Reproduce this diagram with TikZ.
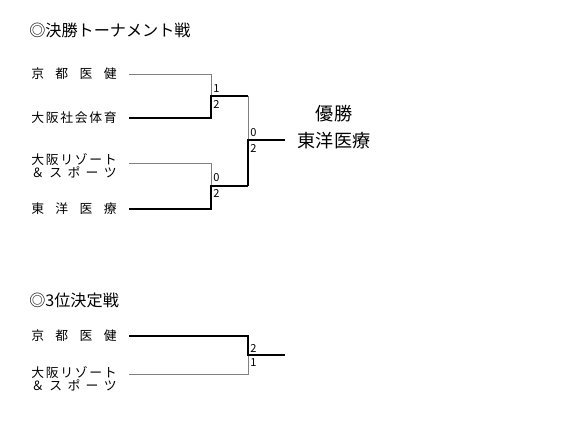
\documentclass[tikz,border=0pt]{standalone}
\usepackage{fontspec}
\setmainfont{Noto Sans CJK JP}
\newcommand{\spread}[1]{\makebox[64pt][s]{#1}}
\begin{document}
\begin{tikzpicture}[x=0.75pt,y=-0.75pt,
  lose/.style={draw=gray,line width=0.6pt},
  win/.style={draw=black,line width=1.5pt,line join=miter},
  team/.style={anchor=west,inner sep=0pt,align=left,font=\fontsize{9.6pt}{9.75pt}\selectfont},
  score/.style={anchor=west,inner sep=0pt,font=\fontsize{8.3pt}{9pt}\selectfont},
  head/.style={inner sep=0pt,font=\fontsize{12.1pt}{20pt}\selectfont}]
\useasboundingbox (0,0) rectangle (580,424);
\node[head,anchor=west] (title1) at (29,30) {◎決勝トーナメント戦};
\node[head,anchor=west] (title2) at (29,300) {◎3位決定戦};
% teams
\node[team] (kyoto) at (31,74) {\spread{京\hfill 都\hfill 医\hfill 健}};
\node[team] (osakash) at (31,118) {\spread{大\hfill 阪\hfill 社\hfill 会\hfill 体\hfill 育}};
\node[team] (resort) at (31,165.5) {\spread{大\hfill 阪\hfill リ\hfill ゾ\hfill ー\hfill ト}\\\spread{＆\hfill ス\hfill ポ\hfill ー\hfill ツ}};
\node[team] (toyo) at (31,209) {\spread{東\hfill 洋\hfill 医\hfill 療}};
\node[team] (kyoto2) at (31,336) {\spread{京\hfill 都\hfill 医\hfill 健}};
\node[team] (resort2) at (31,378.5) {\spread{大\hfill 阪\hfill リ\hfill ゾ\hfill ー\hfill ト}\\\spread{＆\hfill ス\hfill ポ\hfill ー\hfill ツ}};
% bracket points
\coordinate (a1) at (129,74); \coordinate (a2) at (129,118);
\coordinate (a3) at (129,163); \coordinate (a4) at (129,209);
\coordinate (m1) at (211,96); \coordinate (r1) at (248,96);
\coordinate (m2) at (211,186); \coordinate (r2) at (248,186);
\coordinate (f) at (248,140); \coordinate (w) at (285,140);
\coordinate (b1) at (129,336); \coordinate (b2) at (129,374);
\coordinate (m3) at (248,355); \coordinate (w3) at (285,355);
\draw[lose] (a1) -| (m1);
\draw[win] (a2) -| (m1) -- (r1);
\draw[lose] (a3) -| (m2);
\draw[win] (a4) -| (m2) -- (r2);
\draw[lose] (r1) -- (f);
\draw[win] (r2) -- (f) -- (w);
\draw[lose] (b2) -| (m3);
\draw[win] (b1) -| (m3) -- (w3);
% scores
\node[score] (s1) at (213,89) {1}; \node[score] (s2) at (213,104) {2};
\node[score] (s3) at (213,178) {0}; \node[score] (s4) at (213,193) {2};
\node[score] (s5) at (250,133) {0}; \node[score] (s6) at (250,148) {2};
\node[score] (s7) at (250,348) {2}; \node[score] (s8) at (250,363) {1};
% winner
\node[head,font=\fontsize{13.6pt}{20pt}\selectfont] (champ) at (334,114) {優勝};
\node[head,font=\fontsize{13.6pt}{20pt}\selectfont] (champteam) at (334,141) {東洋医療};
\end{tikzpicture}
\end{document}
